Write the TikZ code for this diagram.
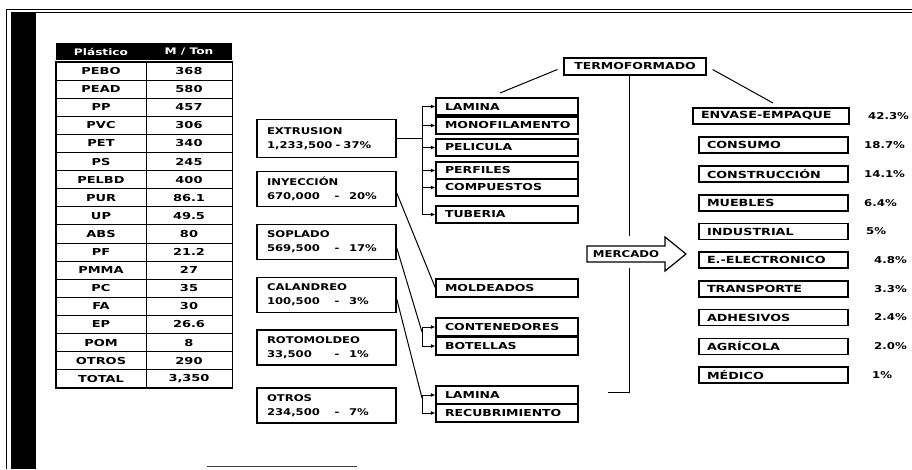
\documentclass[tikz,border=0pt]{standalone}
\usepackage{fontspec}
\setmainfont{DejaVu Sans}
\newfontfamily\widefont[FakeStretch=1.3]{DejaVu Sans}
\newfontfamily\midfont[FakeStretch=1.25]{DejaVu Sans}
\newfontfamily\tabfont[FakeStretch=1.35]{DejaVu Sans}
\usetikzlibrary{arrows.meta,calc}
\begin{document}
\begin{tikzpicture}[x=1pt,y=-1pt,
  ink/.style={draw=black,line width=1.2pt},
  procbox/.style={ink,line width=1.5pt,minimum width=139pt,minimum height=35pt,inner xsep=10pt,inner ysep=0pt,text width=119pt,align=left,font=\midfont\bfseries\fontsize{9.3}{14}\selectfont},
  subbox/.style={ink,minimum width=142pt,minimum height=17pt,inner xsep=9pt,inner ysep=0pt,text width=124pt,align=left,font=\widefont\bfseries\fontsize{9.6}{11}\selectfont},
  mktbox/.style={ink,minimum width=149pt,minimum height=16pt,inner xsep=8pt,inner ysep=0pt,text width=133pt,align=left,font=\widefont\bfseries\fontsize{9.8}{11}\selectfont},
  pct/.style={anchor=west,inner sep=0pt,font=\midfont\bfseries\fontsize{9.4}{11}\selectfont},
  cell/.style={draw=black,line width=1pt,minimum height=18.1pt,inner sep=0pt,font=\tabfont\bfseries\fontsize{9.6}{11}\selectfont},
  headcell/.style={fill=black,text=white,minimum height=17pt,inner sep=0pt,font=\tabfont\bfseries\fontsize{9}{11}\selectfont},
  feed/.style={draw=black,line width=1pt,-{Latex[length=4.5pt,width=4pt]}},
  link/.style={draw=black,line width=1pt},
]
% page
\fill[white] (0,0) rectangle (912,469);
\useasboundingbox (0,0) rectangle (912,469);

% frame
\fill[black] (11,12) rectangle (36,469);
\draw[line width=1pt] (6,469) -- (6,9) -- (912,9);
\draw[line width=1.4pt] (36,12.5) -- (912,12.5);
\draw[line width=1pt,black!75] (207,466) -- (357,466);

% production table
\node[headcell,minimum width=90pt] (h1) at (101,51.5) {Plástico};
\node[headcell,minimum width=86pt] (h2) at (189,51.5) {M / Ton};
\foreach \nm/\vl [count=\i from 0] in {PEBO/368,PEAD/580,PP/457,PVC/306,PET/340,PS/245,PELBD/400,PUR/86.1,UP/49.5,ABS/80,PF/21.2,PMMA/27,PC/35,FA/30,EP/26.6,POM/8,OTROS/290,TOTAL/{3,350}}{
  \node[cell,minimum width=90pt] (n\i) at (101,{71.05+\i*18.1}) {\nm};
  \node[cell,minimum width=86pt] (v\i) at (189,{71.05+\i*18.1}) {\vl};
}
\draw[line width=1.6pt] (n0.north west) rectangle (v17.south east);

% processes
\node[procbox,minimum height=38pt] (ext) at (326.5,138.5) {EXTRUSION\\1,233,500 - 37\%};
\node[procbox] (iny) at (326.5,189) {INYECCIÓN\\\makebox[64pt][l]{670,000}\makebox[12pt][c]{-}\hspace{6pt}20\%};
\node[procbox] (sop) at (326.5,242) {SOPLADO\\\makebox[64pt][l]{569,500}\makebox[12pt][c]{-}\hspace{6pt}17\%};
\node[procbox] (cal) at (326.5,295) {CALANDREO\\\makebox[64pt][l]{100,500}\makebox[12pt][c]{-}\hspace{6pt}3\%};
\node[procbox] (rot) at (326.5,347.5) {ROTOMOLDEO\\\makebox[64pt][l]{33,500}\makebox[12pt][c]{-}\hspace{6pt}1\%};
\node[procbox] (otr) at (326.5,405.5) {OTROS\\\makebox[64pt][l]{234,500}\makebox[12pt][c]{-}\hspace{6pt}7\%};

% products
\node[subbox] (lamA) at (507,106.5) {LAMINA};
\node[subbox] (mono) at (507,125.5) {MONOFILAMENTO};
\node[subbox] (peli) at (507,147.5) {PELICULA};
\node[subbox] (perf) at (507,170.5) {PERFILES};
\node[subbox] (comp) at (507,187.5) {COMPUESTOS};
\node[subbox] (tube) at (507,214.5) {TUBERIA};
\node[subbox,minimum height=18pt] (mold) at (507,288) {MOLDEADOS};
\node[subbox,minimum height=18pt] (cont) at (507,327) {CONTENEDORES};
\node[subbox,minimum height=18pt] (bote) at (507,346) {BOTELLAS};
\node[subbox,minimum height=18pt] (lamB) at (507,395) {LAMINA};
\node[subbox,minimum height=18pt] (recu) at (507,413) {RECUBRIMIENTO};

% extrusion bracket
\coordinate (bx) at (422,0);
\draw[link] (ext.east) -- (ext.east -| bx);
\draw[link] (lamA.west -| bx) -- (tube.west -| bx);
\foreach \b in {lamA,mono,peli,perf,comp,tube}
  \draw[feed] (\b.west -| bx) -- (\b.west);

% injection
\draw[link] ($(iny.east)+(0,4)$) -- (mold.west);

% blow moulding bracket
\coordinate (sj) at (422,332);
\draw[link] ($(sop.east)+(0,6)$) -- (sj);
\draw[link] (cont.west -| bx) -- (bote.west -| bx);
\foreach \b in {cont,bote}
  \draw[feed] (\b.west -| bx) -- (\b.west);

% calendering bracket
\coordinate (cj) at (422,398);
\draw[link] ($(cal.east)+(0,4)$) -- (cj);
\draw[link] (lamB.west -| bx) -- (recu.west -| bx);
\foreach \b in {lamB,recu}
  \draw[feed] (\b.west -| bx) -- (\b.west);

% thermoforming
\node[ink,minimum width=142pt,minimum height=17pt,inner sep=0pt,font=\widefont\bfseries\fontsize{9.6}{11}\selectfont] (termo) at (635,66.5) {TERMOFORMADO};
\coordinate (tl) at (500,93);
\coordinate (tr) at (773,103);
\draw[link] ($(termo.west)+(-6,3)$) -- (tl);
\draw[link] ($(termo.east)+(6,3)$) -- (tr);

% market arrow
\draw[line width=1.2pt,fill=white] (587,246) -- (665,246) -- (665,237) -- (686,254) -- (665,271) -- (665,262) -- (587,262) -- cycle;
\node[inner sep=0pt,font=\midfont\bfseries\fontsize{9.4}{11}\selectfont] (merc) at (626,254) {MERCADO};
\coordinate (vx) at (629,0);
\draw[link] (termo.south -| vx) -- (629,236);
\coordinate (vb) at (629,392);
\draw[link] (629,268) -- (vb) -- (608,392);

% market segments
\node[mktbox,minimum width=156pt,text width=140pt] (m1) at (771,116) {ENVASE-EMPAQUE};
\node[mktbox] (m2) at (773.5,145) {CONSUMO};
\node[mktbox] (m3) at (773.5,174) {CONSTRUCCIÓN};
\node[mktbox] (m4) at (773.5,203) {MUEBLES};
\node[mktbox] (m5) at (773.5,231.5) {INDUSTRIAL};
\node[mktbox] (m6) at (773.5,260) {E.-ELECTRONICO};
\node[mktbox] (m7) at (773.5,289) {TRANSPORTE};
\node[mktbox] (m8) at (773.5,317.5) {ADHESIVOS};
\node[mktbox] (m9) at (773.5,346.5) {AGRÍCOLA};
\node[mktbox] (m10) at (773.5,375) {MÉDICO};

\node[pct] (p1) at (868,116) {42.3\%};
\node[pct] (p2) at (864,145) {18.7\%};
\node[pct] (p3) at (864,174) {14.1\%};
\node[pct] (p4) at (864,203) {6.4\%};
\node[pct] (p5) at (866,231.5) {5\%};
\node[pct] (p6) at (874,260) {4.8\%};
\node[pct] (p7) at (874,289) {3.3\%};
\node[pct] (p8) at (874,317.5) {2.4\%};
\node[pct] (p9) at (874,346.5) {2.0\%};
\node[pct] (p10) at (872,375) {1\%};
\end{tikzpicture}
\end{document}
